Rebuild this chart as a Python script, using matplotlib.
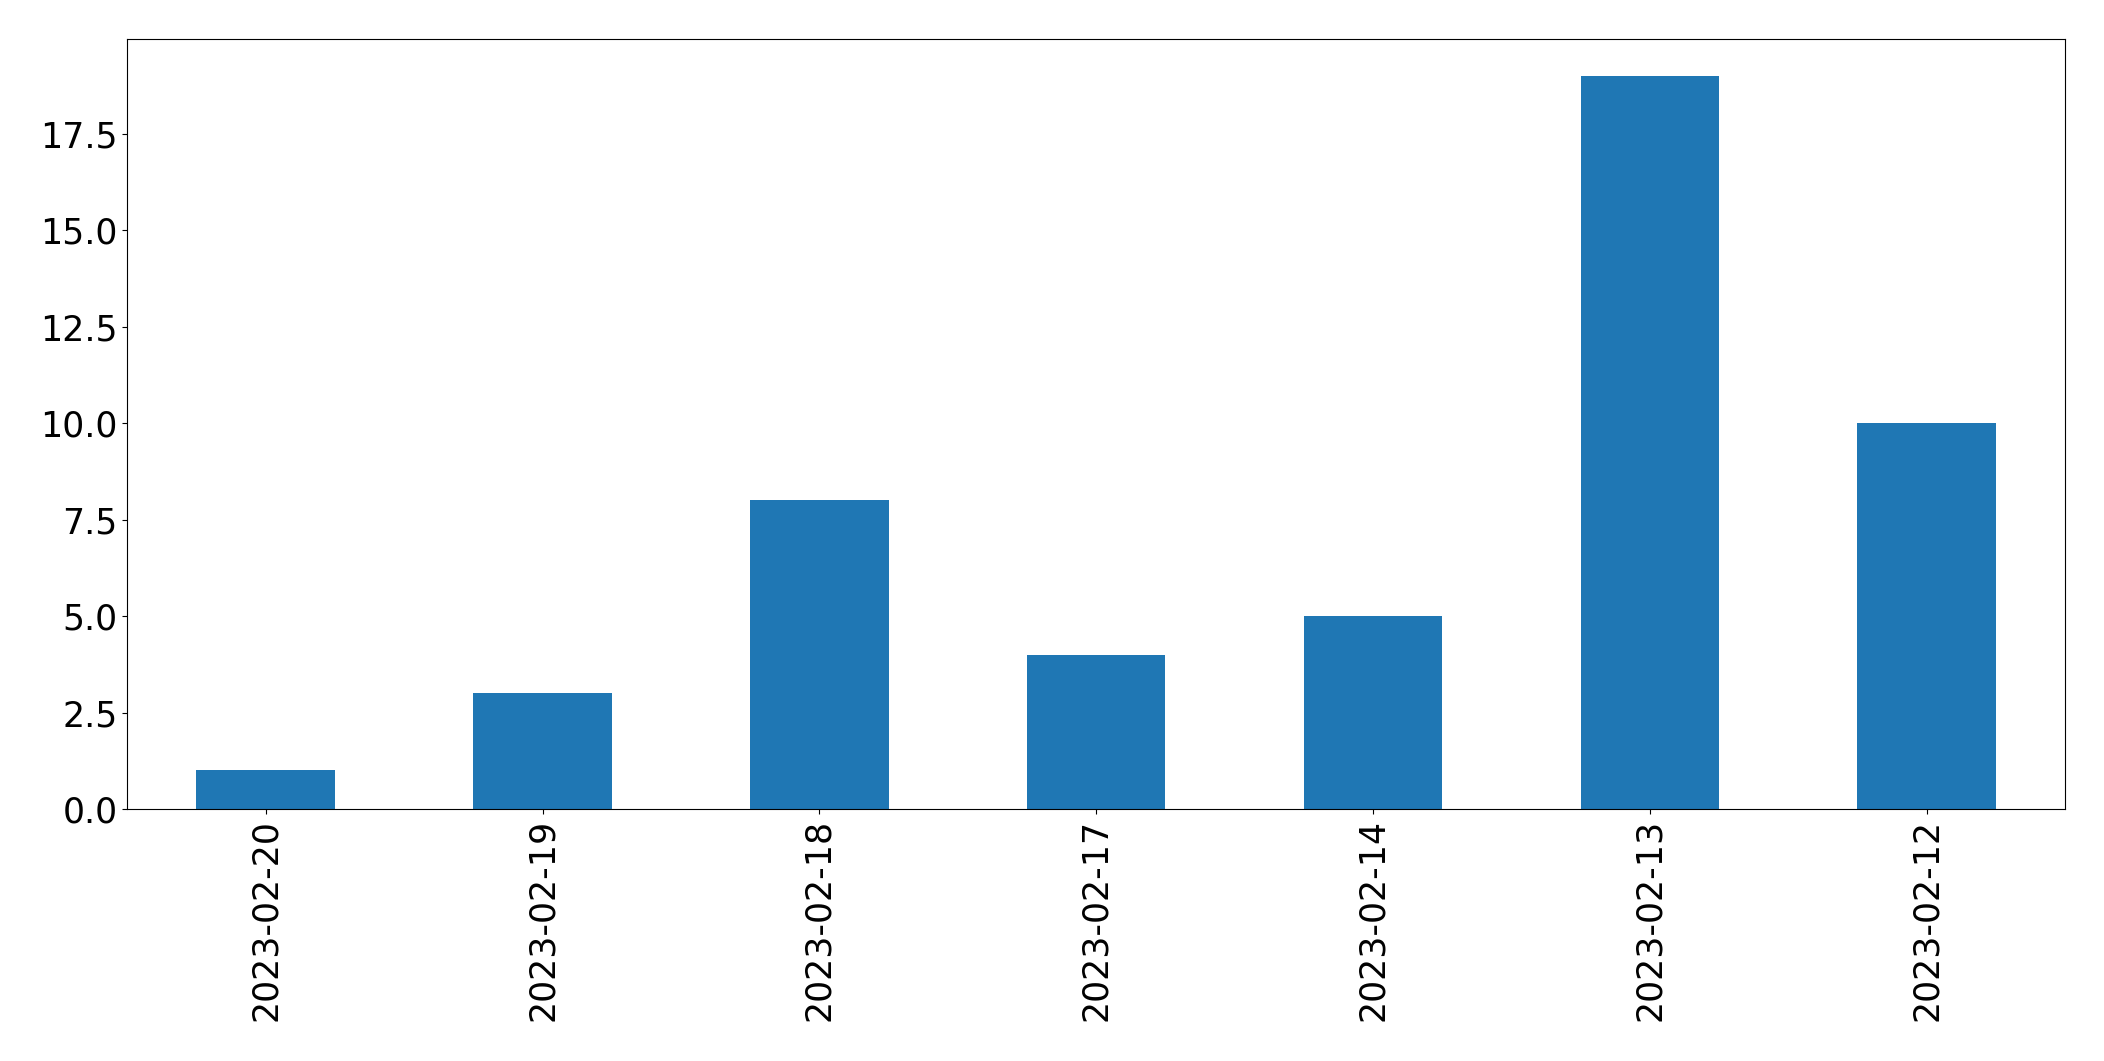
import matplotlib
matplotlib.use("Agg")
import matplotlib.pyplot as plt
import pandas as pd

dates = [
    "2023-02-20",
    "2023-02-19",
    "2023-02-18",
    "2023-02-17",
    "2023-02-14",
    "2023-02-13",
    "2023-02-12",
]
counts = [1, 3, 8, 4, 5, 19, 10]

series = pd.Series(counts, index=dates)

fig, ax = plt.subplots(figsize=(21.04, 10.61), dpi=100)

series.plot(kind="bar", ax=ax, color="#1f77b4", width=0.5)

ax.tick_params(axis="both", labelsize=25)
ax.set_ylim(0, max(counts) * 1.05)

fig.subplots_adjust(
    left=0.0605,
    right=0.9815,
    top=0.963,
    bottom=0.2375
)

fig.savefig("out.png", dpi=100)
